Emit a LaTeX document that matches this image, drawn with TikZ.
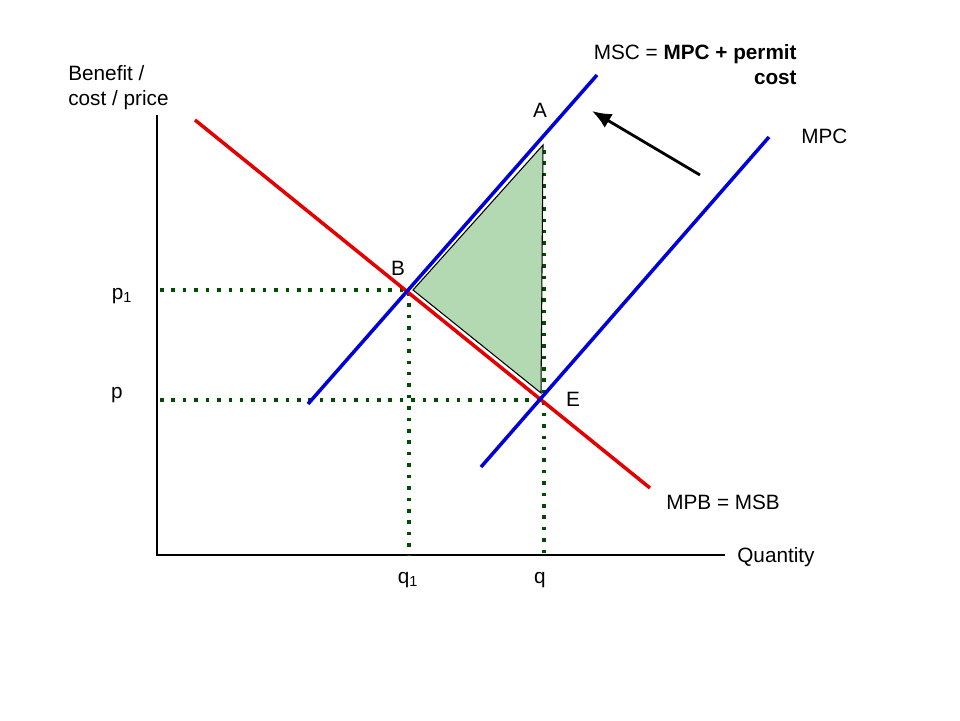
\documentclass[tikz,border=0pt]{standalone}
\usepackage{fontspec}
\setmainfont{Liberation Sans}
\usetikzlibrary{arrows.meta}
\begin{document}
\begin{tikzpicture}[x=0.02cm,y=-0.02cm,
  lbl/.style={font=\fontsize{11.8pt}{14.5pt}\selectfont,inner sep=0pt},
  dot/.style={draw=black!50!green!60!black,line width=2pt,dash pattern=on 2pt off 4.5pt},
  blueline/.style={draw=blue!85!black,line width=2pt},
  redline/.style={draw=red!90!black,line width=2pt}]
\useasboundingbox (0,0) rectangle (960,720);
\coordinate (O) at (157,555);
\coordinate (Ytop) at (157,115);
\coordinate (Xend) at (725,555);
\draw[black,line width=0.6pt] (Ytop) -- (O) -- (Xend);
\coordinate (p1l) at (160,290); \coordinate (Bp) at (407,290);
\coordinate (pl) at (160,400); \coordinate (Ep) at (541,400);
\coordinate (q1b) at (409,555); \coordinate (q1t) at (409,292);
\coordinate (qb) at (544,555); \coordinate (qt) at (544,150);
\draw[dot] (p1l) -- (Bp); \draw[dot] (pl) -- (Ep);
\draw[dot] (q1t) -- (q1b); \draw[dot] (qt) -- (qb);
\coordinate (T1) at (413,290); \coordinate (T2) at (543,145); \coordinate (T3) at (541,393);
\filldraw[fill=green!50!black!30,draw=black,line width=0.6pt] (T1) -- (T2) -- (T3) -- cycle;
\coordinate (R1) at (195,120); \coordinate (R2) at (650,488);
\draw[redline] (R1) -- (R2);
\coordinate (S1) at (308,404); \coordinate (S2) at (597,75);
\draw[blueline] (S1) -- (S2);
\coordinate (M1) at (481,467); \coordinate (M2) at (769,137);
\draw[blueline] (M1) -- (M2);
\coordinate (a1) at (700,175); \coordinate (a2) at (592,111);
\draw[-{Latex[length=11pt,width=9pt]},line width=1.6pt] (a1) -- (a2);
\node[lbl,anchor=north west,align=left] (yl) at (68,65) {Benefit /\\cost / price};
\node[lbl] (p1) at (122,296) {p\textsubscript{1}};
\node[lbl] (p) at (117,395) {p};
\node[lbl] (q1) at (408,580) {q\textsubscript{1}};
\node[lbl] (q) at (540,580) {q};
\node[lbl,anchor=west] (qty) at (737,557) {Quantity};
\node[lbl,anchor=west] (mpb) at (666,502) {MPB = MSB};
\node[lbl,anchor=west] (mpc) at (801,136) {MPC};
\node[lbl] (A) at (540,110) {A};
\node[lbl] (B) at (398,268) {B};
\node[lbl] (E) at (573,399) {E};
\node[lbl,anchor=north east,align=right] (msc) at (797,44) {MSC = \textbf{MPC + permit}\\\textbf{cost}};
\end{tikzpicture}
\end{document}
